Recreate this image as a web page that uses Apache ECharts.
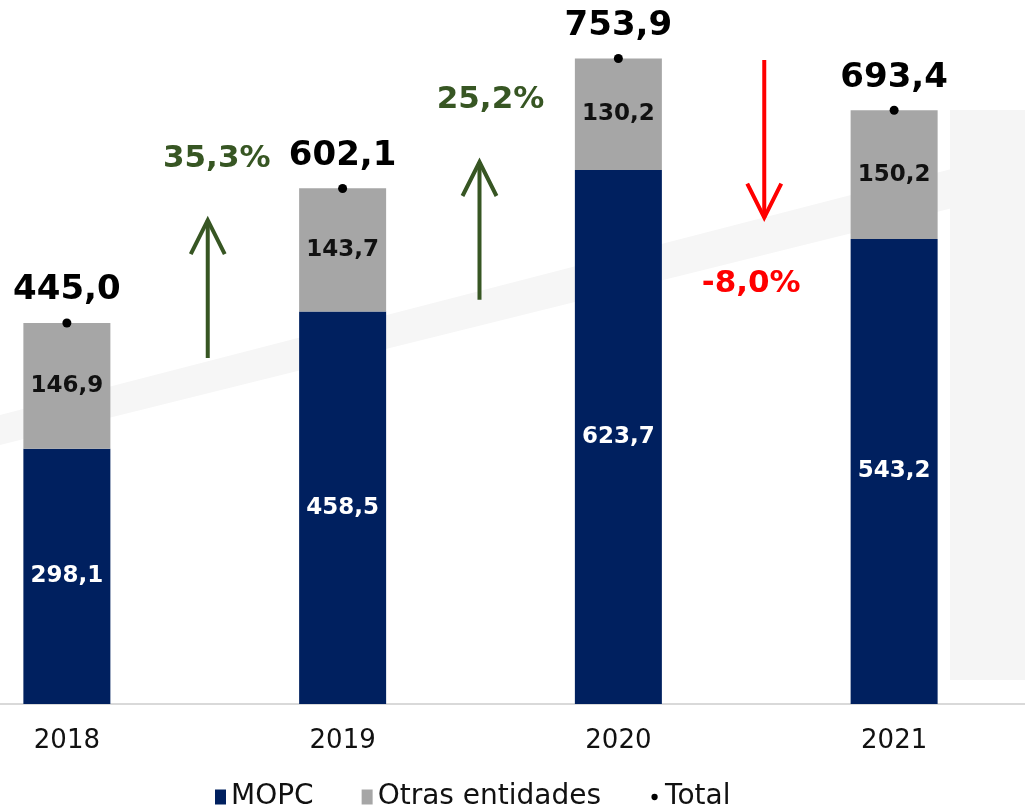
<!DOCTYPE html>
<html>
<head>
<meta charset="utf-8">
<script src="https://cdn.jsdelivr.net/npm/echarts@6/dist/echarts.min.js"></script>
<style>
  html, body { margin: 0; padding: 0; background: #fff; }
  #main { width: 1025px; height: 809px; }
</style>
</head>
<body>
<div id="main"></div>
<script>
var years = ['2018', '2019', '2020', '2021'];
var mopc = [298.1, 458.5, 623.7, 543.2];
var otras = [146.9, 143.7, 130.2, 150.2];
var total = [445.0, 602.1, 753.9, 693.4];
var cambios = ['35,3%', '25,2%', '-8,0%'];
// arrow from / to values and label height (in data units)
var flechas = [
  { from: 404, to: 565, label: 636, dx: 3, ldx: 12, color: '#375623' },
  { from: 472, to: 633, label: 706, dx: -1, ldx: 10, color: '#375623' },
  { from: 752, to: 568, label: 491, dx: 8, ldx: -5, color: '#ff0000' }
];

function fmt(v) { return v.toFixed(1).replace('.', ','); }

var chart = echarts.init(document.getElementById('main'));
var numFont = '"DejaVu Sans", sans-serif';
var axFont = '"DejaVu Sans", sans-serif';

chart.setOption({
  animation: false,
  backgroundColor: '#ffffff',
  grid: { left: -71, right: -7, top: 19, bottom: 105, outerBoundsMode: 'none', containLabel: false },
  legend: {
    top: 778,
    left: 210,
    itemWidth: 11,
    itemHeight: 15,
    itemGap: 48,
    textStyle: { fontFamily: axFont, fontSize: 28, color: '#111' },
    data: [
      { name: 'MOPC', icon: 'rect' },
      { name: 'Otras entidades', icon: 'rect' },
      { name: 'Total', icon: 'path://M0,0M14,14M3,7a4,4 0 1,0 8,0a4,4 0 1,0 -8,0z' }
    ]
  },
  xAxis: {
    type: 'category',
    data: years,
    axisLine: { lineStyle: { color: '#d9d9d9', width: 2 } },
    axisTick: { show: false },
    axisLabel: { margin: 24, fontFamily: axFont, fontSize: 26, color: '#111' }
  },
  yAxis: {
    type: 'value',
    min: 0,
    max: 800,
    show: false,
    splitLine: { show: false }
  },
  series: [
    {
      name: 'MOPC',
      type: 'bar',
      stack: 'a',
      barWidth: 87,
      data: mopc,
      itemStyle: { color: '#00205f' },
      label: {
        show: true, position: 'inside', color: '#fff',
        fontFamily: numFont, fontWeight: 'bold', fontSize: 23,
        formatter: function (p) { return fmt(p.value); }
      }
    },
    {
      name: 'Otras entidades',
      type: 'bar',
      stack: 'a',
      barWidth: 87,
      data: otras,
      itemStyle: { color: '#a6a6a6' },
      label: {
        show: true, position: 'inside', color: '#111',
        fontFamily: numFont, fontWeight: 'bold', fontSize: 23,
        formatter: function (p) { return fmt(p.value); }
      }
    },
    {
      name: 'Total',
      type: 'line',
      data: total,
      symbol: 'circle',
      symbolSize: 9,
      itemStyle: { color: '#000' },
      lineStyle: { opacity: 0 },
      z: 5,
      label: {
        show: true, position: 'top', distance: 11, color: '#000',
        fontFamily: numFont, fontWeight: 'bold', fontSize: 34,
        formatter: function (p) { return fmt(p.value); }
      }
    }
  ]
});

// faint background shapes, then arrows and percentage changes between the years
var graphics = [
  { type: 'polygon', z: -10, shape: { points: [[0, 415], [1025, 150], [1025, 190], [0, 445]] }, style: { fill: '#f6f6f6' } },
  { type: 'rect', z: -9, shape: { x: 950, y: 110, width: 75, height: 570 }, style: { fill: '#f5f5f5' } }
];
flechas.forEach(function (f, i) {
  var a = chart.convertToPixel({ gridIndex: 0 }, [i, f.from]);
  var b = chart.convertToPixel({ gridIndex: 0 }, [i + 1, f.to]);
  var x = (a[0] + b[0]) / 2 + f.dx;
  var y0 = a[1], y1 = b[1];
  var dir = y1 < y0 ? 1 : -1;
  var lbl = chart.convertToPixel({ gridIndex: 0 }, [i, f.label]);
  graphics.push({
    type: 'polyline',
    shape: { points: [[x, y0], [x, y1]] },
    style: { stroke: f.color, lineWidth: 4, fill: null }
  });
  graphics.push({
    type: 'polyline',
    shape: { points: [[x - 17, y1 + dir * 34], [x, y1], [x + 17, y1 + dir * 34]] },
    style: { stroke: f.color, lineWidth: 4, fill: null }
  });
  graphics.push({
    type: 'text',
    x: (a[0] + b[0]) / 2 + f.ldx,
    y: lbl[1],
    style: {
      text: cambios[i], fill: f.color, align: 'center', verticalAlign: 'middle',
      font: 'bold 31px ' + numFont
    }
  });
});
chart.setOption({ graphic: graphics });
</script>
</body>
</html>
